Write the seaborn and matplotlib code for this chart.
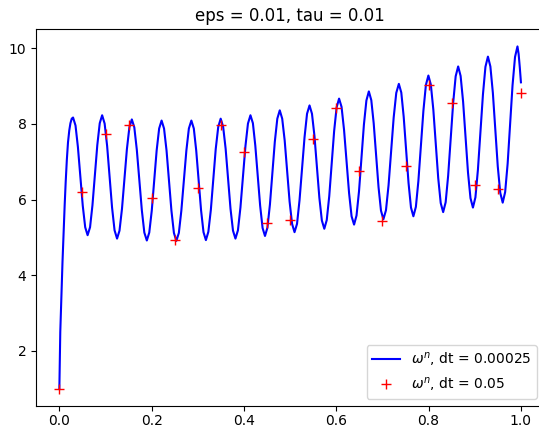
import matplotlib
matplotlib.use("Agg")
import matplotlib.pyplot as plt
import seaborn as sns

# fine solution (dt = 0.00025)
t_fine = [0.0, 0.002, 0.0043, 0.0068, 0.0093, 0.0115, 0.0137, 0.0162,
          0.0187, 0.0215, 0.024, 0.0268, 0.0297,
          0.0350, 0.0402, 0.0455, 0.0507, 0.0560, 0.0612,
          0.0665, 0.0717, 0.0770, 0.0822, 0.0875, 0.0927,
          0.0981, 0.1035, 0.1089, 0.1142, 0.1196, 0.1250,
          0.1303, 0.1357, 0.1410, 0.1463, 0.1517, 0.1570,
          0.1624, 0.1678, 0.1733, 0.1787, 0.1841, 0.1895,
          0.1948, 0.2002, 0.2055, 0.2108, 0.2162, 0.2215,
          0.2268, 0.2322, 0.2375, 0.2428, 0.2482, 0.2535,
          0.2589, 0.2643, 0.2698, 0.2752, 0.2806, 0.2860,
          0.2913, 0.2965, 0.3018, 0.3070, 0.3123, 0.3175,
          0.3228, 0.3282, 0.3335, 0.3388, 0.3442, 0.3495,
          0.3548, 0.3602, 0.3655, 0.3708, 0.3762, 0.3815,
          0.3869, 0.3923, 0.3978, 0.4032, 0.4086, 0.4140,
          0.4193, 0.4245, 0.4298, 0.4350, 0.4403, 0.4455,
          0.4508, 0.4562, 0.4615, 0.4668, 0.4722, 0.4775,
          0.4828, 0.4882, 0.4935, 0.4988, 0.5042, 0.5095,
          0.5149, 0.5203, 0.5258, 0.5312, 0.5366, 0.5420,
          0.5473, 0.5527, 0.5580, 0.5633, 0.5687, 0.5740,
          0.5793, 0.5847, 0.5900, 0.5953, 0.6007, 0.6060,
          0.6114, 0.6168, 0.6223, 0.6277, 0.6331, 0.6385,
          0.6438, 0.6492, 0.6545, 0.6598, 0.6652, 0.6705,
          0.6758, 0.6810, 0.6863, 0.6915, 0.6968, 0.7020,
          0.7076, 0.7132, 0.7188, 0.7243, 0.7299, 0.7355,
          0.7408, 0.7460, 0.7513, 0.7565, 0.7618, 0.7670,
          0.7724, 0.7778, 0.7833, 0.7887, 0.7941, 0.7995,
          0.8048, 0.8102, 0.8155, 0.8208, 0.8262, 0.8315,
          0.8369, 0.8423, 0.8478, 0.8532, 0.8586, 0.8640,
          0.8693, 0.8747, 0.8800, 0.8853, 0.8907, 0.8960,
          0.9014, 0.9068, 0.9123, 0.9177, 0.9231, 0.9285,
          0.9338, 0.9392, 0.9445, 0.9498, 0.9552, 0.9605,
          0.9658, 0.9712, 0.9765, 0.9818, 0.9872, 0.9925,
          0.9950, 0.9975, 1.0]
w_fine = [1.0, 2.5, 3.4, 4.35, 5.15, 5.85, 6.46, 7.05,
          7.51, 7.83, 8.02, 8.14, 8.17,
          7.96, 7.39, 6.62, 5.84, 5.27, 5.06,
          5.27, 5.85, 6.65, 7.44, 8.02, 8.23,
          8.01, 7.42, 6.60, 5.79, 5.19, 4.97,
          5.18, 5.76, 6.55, 7.33, 7.91, 8.12,
          7.91, 7.32, 6.52, 5.72, 5.13, 4.92,
          5.13, 5.71, 6.51, 7.30, 7.88, 8.09,
          7.88, 7.30, 6.50, 5.71, 5.12, 4.91,
          5.12, 5.71, 6.50, 7.30, 7.88, 8.09,
          7.88, 7.30, 6.51, 5.72, 5.14, 4.93,
          5.15, 5.73, 6.54, 7.34, 7.92, 8.14,
          7.93, 7.35, 6.56, 5.76, 5.18, 4.97,
          5.19, 5.79, 6.60, 7.42, 8.01, 8.23,
          8.02, 7.43, 6.64, 5.84, 5.25, 5.04,
          5.26, 5.87, 6.70, 7.53, 8.14, 8.36,
          8.14, 7.56, 6.75, 5.95, 5.36, 5.14,
          5.36, 5.98, 6.82, 7.65, 8.27, 8.49,
          8.27, 7.68, 6.86, 6.05, 5.45, 5.23,
          5.46, 6.09, 6.95, 7.81, 8.44, 8.67,
          8.45, 7.84, 7.01, 6.17, 5.56, 5.34,
          5.58, 6.22, 7.10, 7.98, 8.62, 8.86,
          8.63, 8.02, 7.17, 6.33, 5.71, 5.48,
          5.72, 6.38, 7.27, 8.17, 8.82, 9.06,
          8.83, 8.19, 7.31, 6.44, 5.79, 5.56,
          5.81, 6.49, 7.42, 8.35, 9.03, 9.28,
          9.04, 8.38, 7.48, 6.57, 5.91, 5.67,
          5.93, 6.63, 7.60, 8.56, 9.26, 9.52,
          9.27, 8.59, 7.66, 6.72, 6.04, 5.79,
          6.06, 6.79, 7.79, 8.78, 9.51, 9.78,
          9.52, 8.82, 7.85, 6.88, 6.18, 5.92,
          6.20, 6.95, 7.99, 9.02, 9.77, 10.05,
          9.85, 9.50, 9.10]

# coarse solution (dt = 0.05)
t_coarse = [0.0, 0.05, 0.1, 0.15, 0.2, 0.25, 0.3, 0.35, 0.4, 0.45, 0.5,
            0.55, 0.6, 0.65, 0.7, 0.75, 0.8, 0.85, 0.9, 0.95, 1.0]
w_coarse = [1.0, 6.19, 7.73, 7.97, 6.04, 4.92, 6.31, 7.97, 7.26, 5.38, 5.47,
            7.59, 8.43, 6.75, 5.43, 6.89, 9.03, 8.55, 6.39, 6.28, 8.81]

assert len(t_fine) == len(w_fine)

fig = plt.figure(figsize=(5.39, 4.30), dpi=100)
# the original image is cropped on the right, so the axes run past the edge
ax = fig.add_axes([0.0673, 0.056, 0.942, 0.8759])

sns.lineplot(x=t_fine, y=w_fine, color="blue", linewidth=1.5,
             label=r"$\omega^n$, dt = 0.00025", ax=ax)
sns.lineplot(x=t_coarse, y=w_coarse, color="red", linestyle="", marker="+",
             markersize=7, markeredgewidth=1.0, markeredgecolor="red",
             label=r"$\omega^n$, dt = 0.05", ax=ax)

ax.tick_params(axis="x", pad=2.5)
ax.set_title("eps = 0.01, tau = 0.01")
ax.legend(loc="lower right")

fig.savefig("out.png", dpi=100)
